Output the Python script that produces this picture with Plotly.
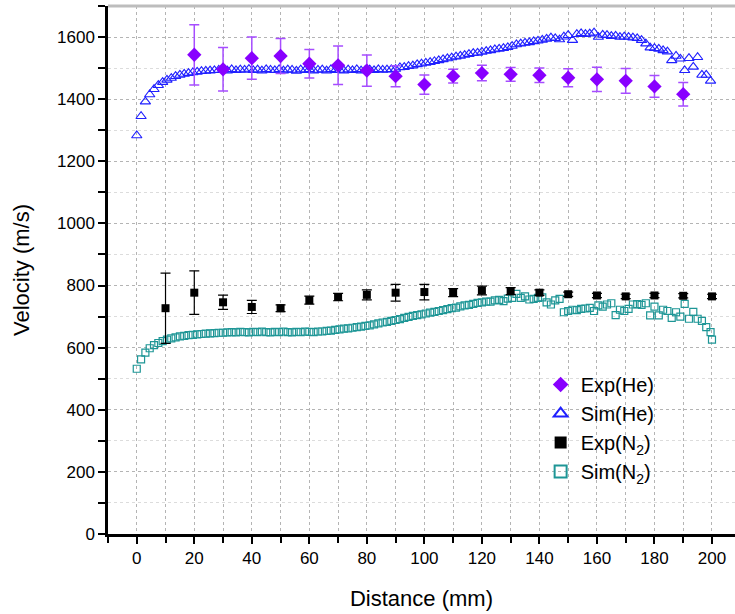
import plotly.graph_objects as go

# ---------------- data ----------------
exp_he_x = [20, 30, 40, 50, 60, 70, 80, 90, 100, 110, 120, 130, 140, 150, 160, 170, 180, 190]
exp_he_y = [1543, 1496, 1532, 1539, 1514, 1509, 1492, 1474, 1447, 1474, 1484, 1480, 1477, 1469, 1464, 1459, 1441, 1416]
exp_he_err = [97, 70, 68, 56, 46, 62, 50, 34, 31, 22, 25, 22, 23, 29, 39, 40, 35, 38]

exp_n2_x = [10, 20, 30, 40, 50, 60, 70, 80, 90, 100, 110, 120, 130, 140, 150, 160, 170, 180, 190, 200]
exp_n2_y = [727, 777, 746, 731, 727, 753, 763, 770, 777, 779, 777, 784, 782, 777, 772, 768, 765, 768, 767, 765]
exp_n2_err = [113, 70, 23, 21, 11, 13, 12, 16, 27, 25, 13, 14, 11, 9, 7, 7, 7, 7, 7, 7]

sim_step = 1.5  # mm between simulated points
sim_he_y = [
    1283, 1345, 1392, 1415, 1432, 1445, 1455, 1462, 1468, 1474,
    1478, 1481, 1484, 1486, 1488, 1490, 1491, 1492, 1493, 1494,
    1495, 1492, 1496, 1493, 1495, 1494, 1497, 1493, 1495, 1492,
    1496, 1494, 1493, 1496, 1492, 1495, 1494, 1491, 1495, 1493,
    1496, 1492, 1494, 1495, 1492, 1496, 1493, 1494, 1492, 1495,
    1493, 1496, 1492, 1494, 1495, 1493, 1496, 1494, 1495, 1496,
    1497, 1502, 1503, 1506, 1508, 1512, 1514, 1517, 1519, 1522,
    1525, 1528, 1531, 1534, 1537, 1539, 1542, 1545, 1548, 1549,
    1552, 1555, 1557, 1560, 1562, 1564, 1567, 1571, 1576, 1579,
    1581, 1583, 1586, 1588, 1591, 1594, 1598, 1596, 1592, 1601,
    1606, 1590, 1609, 1612, 1609, 1611, 1614, 1600, 1607, 1606,
    1603, 1604, 1600, 1601, 1600, 1598, 1596, 1590, 1579, 1566,
    1564, 1562, 1557, 1553, 1525, 1539, 1530, 1493, 1532, 1504,
    1535, 1478, 1478, 1459,
]
sim_n2_y = [
    532, 562, 584, 598, 608, 615, 621, 626, 630, 633,
    636, 638, 640, 641, 643, 644, 645, 646, 647, 648,
    648, 649, 650, 649, 651, 650, 649, 651, 650, 652,
    650, 649, 651, 650, 652, 650, 649, 651, 650, 652,
    651, 650, 652, 652, 654, 655, 657, 659, 661, 662,
    664, 666, 668, 670, 672, 675, 678, 681, 683, 686,
    689, 692, 696, 699, 702, 705, 707, 710, 713, 715,
    718, 721, 724, 727, 729, 733, 736, 738, 741, 744,
    746, 748, 748, 752, 754, 750, 758, 760, 773, 760,
    765, 755, 757, 760, 762, 746, 739, 752, 757, 714,
    718, 722, 721, 725, 726, 728, 718, 736, 732, 739,
    743, 705, 722, 718, 725, 739, 740, 738, 743, 704,
    732, 704, 722, 718, 696, 714, 700, 741, 693, 715,
    693, 686, 666, 650,
]
sim_he_x = [round(i * sim_step, 2) for i in range(len(sim_he_y))]
sim_n2_x = [round(i * sim_step, 2) for i in range(len(sim_n2_y))]
sim_n2_x_extra = [200]
sim_n2_y_extra = [626]

x_ticks = [0, 20, 40, 60, 80, 100, 120, 140, 160, 180, 200]
y_ticks = [0, 200, 400, 600, 800, 1000, 1200, 1400, 1600]

# ---------------- figure ----------------
FONT = "Liberation Sans, Arial, sans-serif"
fig = go.Figure()

fig.add_trace(go.Scatter(
    x=sim_he_x, y=sim_he_y, mode="markers", name="Sim(He)", legendrank=2,
    marker=dict(symbol="triangle-up-open", size=9, color="#2020FF", line=dict(width=1.1)),
))
fig.add_trace(go.Scatter(
    x=sim_n2_x + sim_n2_x_extra, y=sim_n2_y + sim_n2_y_extra, mode="markers",
    name="Sim(N<sub>2</sub>)", legendrank=4,
    marker=dict(symbol="square-open", size=7, color="#1E9696", line=dict(width=1.2)),
))
fig.add_trace(go.Scatter(
    x=exp_he_x, y=exp_he_y, mode="markers", name="Exp(He)", legendrank=1,
    marker=dict(symbol="diamond", size=11, color="#8800FF"),
    error_y=dict(type="data", array=exp_he_err, visible=True, color="#A64DFF", thickness=1.5, width=5),
))
fig.add_trace(go.Scatter(
    x=exp_n2_x, y=exp_n2_y, mode="markers", name="Exp(N<sub>2</sub>)", legendrank=3,
    marker=dict(symbol="square", size=8, color="#000000"),
    error_y=dict(type="data", array=exp_n2_err, visible=True, color="#000000", thickness=1.2, width=5),
))

fig.update_layout(
    width=735, height=614,
    margin=dict(l=108, r=0, t=6, b=80),
    paper_bgcolor="white", plot_bgcolor="white",
    font=dict(family=FONT, size=17, color="black"),
    showlegend=True,
    legend=dict(
        x=0.69, y=0.32, xanchor="left", yanchor="top",
        bgcolor="rgba(0,0,0,0)", font=dict(size=20, family=FONT, color="black"),
        itemsizing="constant", tracegroupgap=0,
    ),
)

fig.update_xaxes(
    range=[-10, 208], tickvals=x_ticks,
    showline=True, linecolor="black", linewidth=2.5,
    ticks="outside", ticklen=7, tickwidth=2, tickcolor="black",
    showgrid=True, gridcolor="#b4b4b4", griddash="dot", gridwidth=1,
    zeroline=False,
    minor=dict(dtick=10, tick0=0, ticks="outside", ticklen=6, tickwidth=2, tickcolor="black",
               showgrid=True, gridcolor="#b4b4b4", griddash="dot", gridwidth=1),
    tickfont=dict(size=17, family=FONT),
    title=dict(text="Distance (mm)", font=dict(size=22, family=FONT), standoff=24),
)
fig.update_yaxes(
    range=[0, 1700], tickvals=y_ticks,
    showline=True, linecolor="black", linewidth=2.5,
    ticks="outside", ticklen=7, tickwidth=2, tickcolor="black",
    showgrid=True, gridcolor="#b4b4b4", griddash="dot", gridwidth=1,
    zeroline=False,
    minor=dict(dtick=100, tick0=0, ticks="outside", ticklen=7, tickwidth=2, tickcolor="black",
               showgrid=True, gridcolor="#dcdcdc", griddash="dot", gridwidth=1),
    tickfont=dict(size=17, family=FONT),
    title=dict(text="Velocity (m/s)", font=dict(size=22, family=FONT), standoff=22),
)

# grey top frame line
fig.add_shape(type="line", xref="paper", yref="paper", x0=0, x1=1, y0=1, y1=1,
              line=dict(color="#bdbdbd", width=3))

fig.write_html("out.html")
